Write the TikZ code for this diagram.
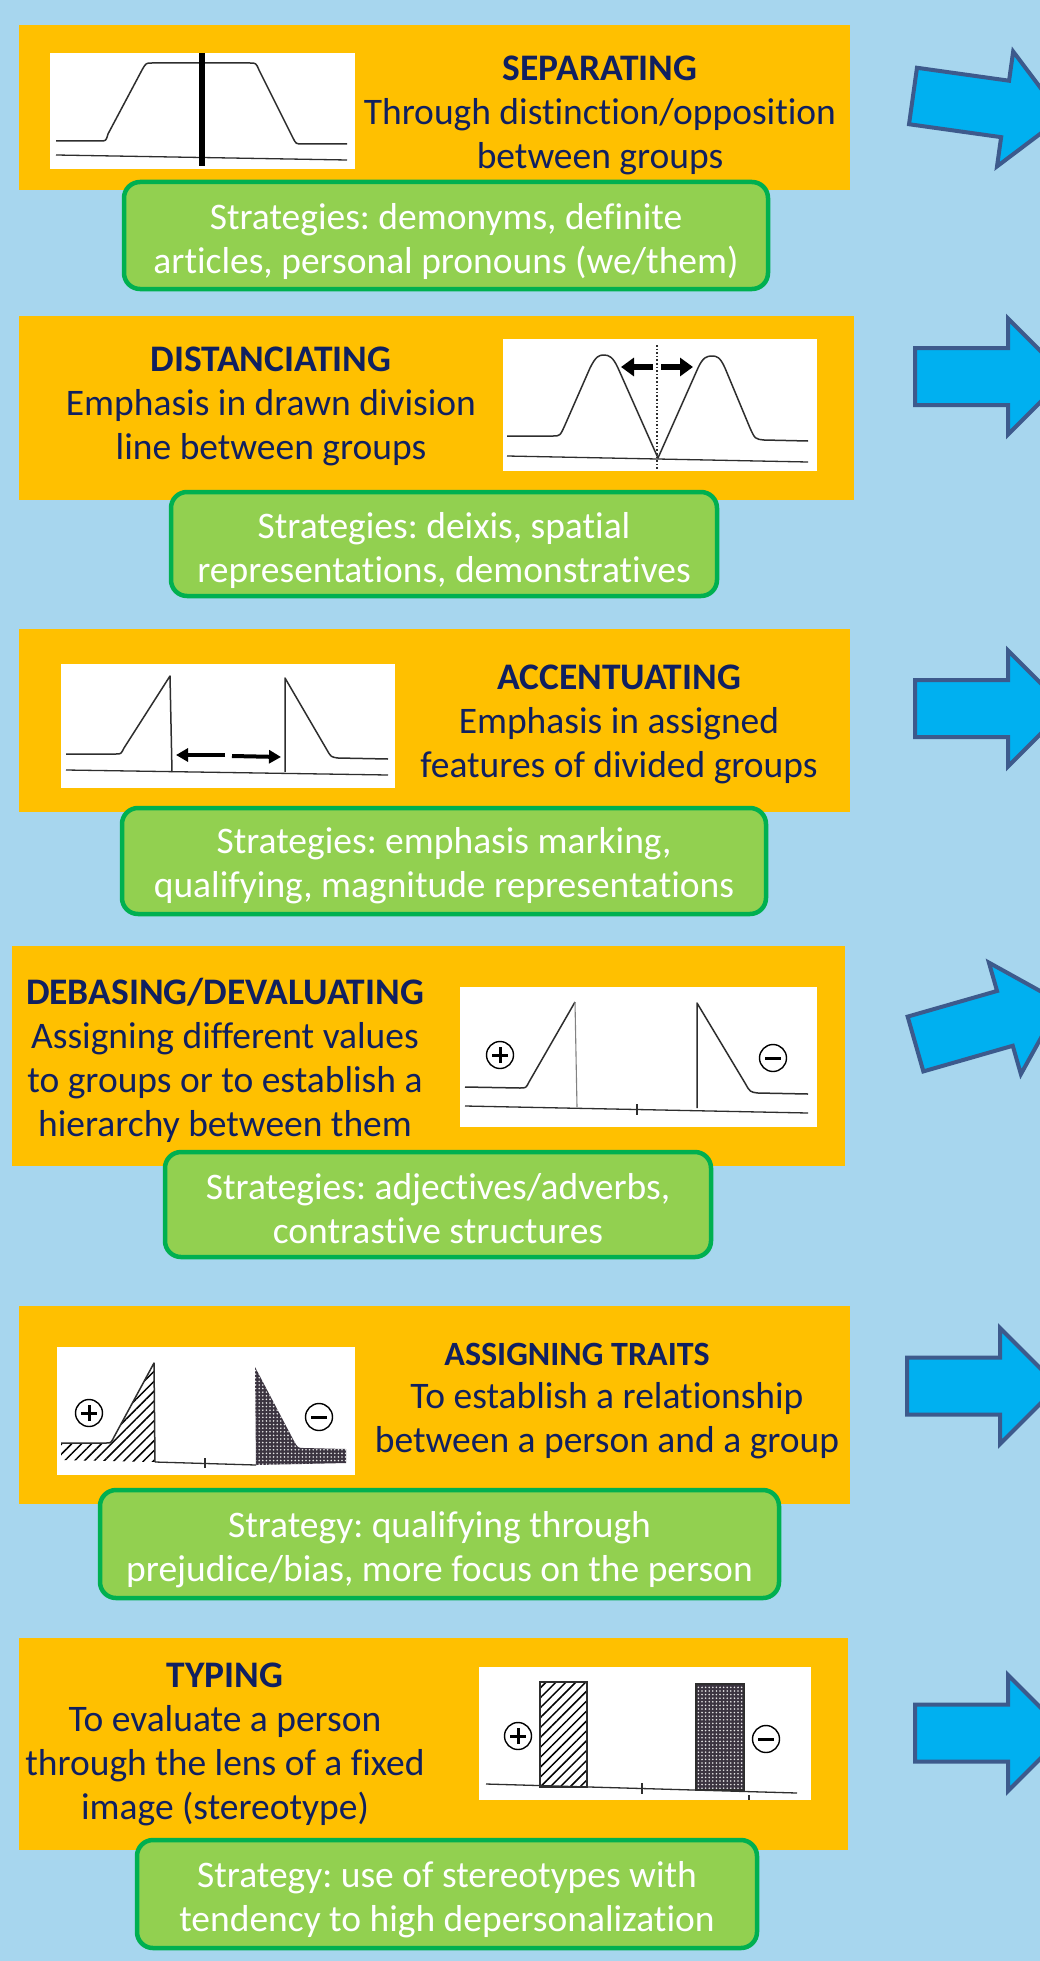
\documentclass[tikz,border=0pt]{standalone}
\usepackage{fontspec}
\setmainfont{Carlito}[Ligatures=NoCommon]
\usetikzlibrary{arrows.meta,patterns.meta}
\frenchspacing

\definecolor{bgblue}{HTML}{A7D6EE}
\definecolor{panelorange}{HTML}{FFC000}
\definecolor{stratgreen}{HTML}{92D050}
\definecolor{stratedge}{HTML}{00B050}
\definecolor{navytext}{HTML}{102060}
\definecolor{arrowfill}{HTML}{00B0F0}
\definecolor{arrowedge}{HTML}{3D5A8C}
\definecolor{plotline}{HTML}{2E2E2E}
\definecolor{dotdark}{HTML}{3B3440}

\begin{document}
\begin{tikzpicture}[x=1pt,y=-1pt,
  panel/.style={fill=panelorange, draw=none, inner sep=0pt},
  plotbox/.style={fill=white, draw=none, inner sep=0pt},
  strat/.style={fill=stratgreen, draw=stratedge, line width=4.5pt,
    rounded corners=16pt, inner sep=0pt},
  strattext/.style={align=center, text=white, inner sep=0pt,
    font=\fontsize{37.5}{44}\selectfont},
  ttl/.style={text=navytext, align=center, inner sep=0pt,
    font=\fontsize{37.5}{44}\selectfont},
  curve/.style={draw=plotline, line width=1.5pt, line join=round},
  axis/.style={draw=plotline, line width=1.3pt},
  gap/.style={draw=black, line width=5.5pt, -{Triangle[length=13pt,width=18pt]}},
  gapsmall/.style={draw=black, line width=4pt, -{Triangle[length=12pt,width=13pt]}},
  hatched/.style={pattern={Lines[angle=45,distance=7pt,line width=1.5pt]}, pattern color=black},
  dotted fill/.style={pattern={Dots[radius=0.9pt,distance=3.6pt]}, pattern color=white!80!gray},
  sign/.style={circle, draw=black, line width=1.4pt, minimum size=27pt, inner sep=0pt},
  plussign/.style={sign, path picture={
    \draw[line width=3pt] ([xshift=-8pt]path picture bounding box.center) -- ([xshift=8pt]path picture bounding box.center)
      ([yshift=-8pt]path picture bounding box.center) -- ([yshift=8pt]path picture bounding box.center);}},
  minussign/.style={sign, path picture={
    \draw[line width=3pt] ([xshift=-8pt]path picture bounding box.center) -- ([xshift=8pt]path picture bounding box.center);}},
  bigarrow/.pic={
    \draw[fill=arrowfill, draw=arrowedge, line width=4pt]
      (0,-28.5) -- (93,-28.5) -- (93,-58) -- (151,0) -- (93,58) -- (93,28.5) -- (0,28.5) -- cycle;}
]
\useasboundingbox (0,0) rectangle (1040,1961);
\clip (0,0) rectangle (1040,1961);
\fill[bgblue] (0,0) rectangle (1040,1961);

% arrows along the right edge
\pic[shift={(913,96)},rotate=-8] {bigarrow};
\pic[shift={(915,376.5)}] {bigarrow};
\pic[shift={(915,708.5)}] {bigarrow};
\pic[shift={(915.5,1044)},rotate=16] {bigarrow};
\pic[shift={(907,1386)}] {bigarrow};
\pic[shift={(915,1733)}] {bigarrow};

% orange panels
\node[panel, minimum width=831pt, minimum height=165pt] (p1) at (434.5,107.5) {};
\node[panel, minimum width=835pt, minimum height=184pt] (p2) at (436.5,408) {};
\node[panel, minimum width=831pt, minimum height=183pt] (p3) at (434.5,720.5) {};
\node[panel, minimum width=833pt, minimum height=220pt] (p4) at (428.5,1056) {};
\node[panel, minimum width=831pt, minimum height=198pt] (p5) at (434.5,1405) {};
\node[panel, minimum width=829pt, minimum height=212pt] (p6) at (433.5,1744) {};

% white plot areas
\node[plotbox, minimum width=305pt, minimum height=116pt] (w1) at (202.5,111) {};
\node[plotbox, minimum width=314pt, minimum height=132pt] (w2) at (660,405) {};
\node[plotbox, minimum width=334pt, minimum height=124pt] (w3) at (228,726) {};
\node[plotbox, minimum width=357pt, minimum height=140pt] (w4) at (638.5,1057) {};
\node[plotbox, minimum width=298pt, minimum height=128pt] (w5) at (206,1411) {};
\node[plotbox, minimum width=332pt, minimum height=133pt] (w6) at (645,1733.5) {};

% plot 1: one group cut by a bar
\draw[curve] (56,141) -- (100,141) .. controls (106,141) .. (108,134) -- (142,70)
  .. controls (146,63) .. (152,63) -- (250,63) .. controls (256,63) .. (259,70)
  -- (293,138) .. controls (296,144) .. (303,144) -- (347,144);
\draw[axis] (56,155) -- (347,160);
\draw[black, line width=6pt] (202,53) -- (202,166);

% plot 2: two peaks pushed apart
\draw[curve] (507,436) -- (553,436) .. controls (560,436) .. (565,425) -- (590,368)
  .. controls (596,356) and (599,355) .. (604,355) .. controls (609,355) and (613,357) .. (618,368)
  -- (658,458) -- (698,368) .. controls (703,357) and (707,356) .. (712,356)
  .. controls (717,356) and (720,357) .. (725,368) -- (750,428)
  .. controls (755,439) .. (764,440) -- (808,441);
\draw[axis] (507,456) -- (808,462);
\draw[plotline, line width=1.6pt, dotted] (657,345) -- (657,470);
\coordinate (c2l) at (653,367);
\coordinate (c2lt) at (621,367);
\coordinate (c2r) at (661,367);
\coordinate (c2rt) at (693,367);
\draw[gap] (c2l) -- (c2lt);
\draw[gap] (c2r) -- (c2rt);

% plot 3: sharpened edges
\draw[curve] (66,754) -- (116,754) .. controls (121,754) .. (124,748) -- (170,676) -- (172,772);
\draw[curve] (285,772) -- (285,678) -- (327,750) .. controls (331,757) .. (338,758) -- (388,759);
\draw[axis] (66,770) -- (388,775);
\coordinate (c3l) at (225,755);
\coordinate (c3lt) at (176,755);
\coordinate (c3r) at (232,756);
\coordinate (c3rt) at (281,757);
\draw[gapsmall] (c3l) -- (c3lt);
\draw[gapsmall] (c3r) -- (c3rt);

% plot 4: plus and minus sides
\draw[curve] (465,1087) -- (520,1088) .. controls (526,1088) .. (529,1082) -- (575,1002);
\draw[draw=plotline!60, line width=1.1pt] (575,1002) -- (577,1107);
\draw[curve] (697,1108) -- (697,1003) -- (745,1083) .. controls (750,1092) .. (758,1093) -- (808,1094);
\draw[axis] (465,1106) -- (808,1113);
\draw[axis] (637,1104) -- (637,1115);
\node[plussign] (s4p) at (500,1055) {};
\node[minussign] (s4m) at (773,1058) {};

% plot 5: hatched and dotted traits
\fill[hatched] (61,1443) -- (106,1443) .. controls (111,1443) .. (114,1437) -- (154,1363) -- (155,1462) -- (61,1460) -- cycle;
\draw[curve] (61,1443) -- (106,1443) .. controls (111,1443) .. (114,1437) -- (154,1363) -- (155,1462);
\fill[dotdark] (255,1367) -- (256,1465) -- (346,1463) -- (346,1449) -- (304,1448) .. controls (298,1448) .. (294,1441) -- cycle;
\fill[dotted fill]
  (255,1367) -- (256,1465) -- (346,1463) -- (346,1449) -- (304,1448) .. controls (298,1448) .. (294,1441) -- cycle;
\draw[axis] (155,1462) -- (256,1465);
\draw[axis] (205,1458) -- (205,1468);
\node[plussign] (s5p) at (89,1413) {};
\node[minussign] (s5m) at (319,1417) {};

% plot 6: fixed blocks
\fill[hatched] (540,1682) rectangle (587,1787);
\draw[plotline, line width=1.3pt] (540,1682) rectangle (587,1787);
\fill[dotdark] (696,1684) rectangle (744,1790);
\fill[dotted fill] (696,1684) rectangle (744,1790);
\draw[plotline, line width=1.3pt] (696,1684) rectangle (744,1790);
\draw[axis] (486,1784) -- (797,1793);
\draw[axis] (642,1783) -- (642,1794);
\draw[axis] (749,1795) -- (749,1800);
\node[plussign] (s6p) at (518,1736) {};
\node[minussign] (s6m) at (766,1739) {};

% panel texts
\node[ttl] (t1) at (600,115) {\textbf{SEPARATING}\\Through distinction/opposition\\between groups};
\node[ttl] (t2) at (271,406) {\textbf{DISTANCIATING}\\Emphasis in drawn division\\line between groups};
\node[ttl] (t3) at (619,724) {\textbf{ACCENTUATING}\\Emphasis in assigned\\features of divided groups};
\node[ttl] (t4) at (225,1060) {\textbf{DEBASING/DEVALUATING}\\Assigning different values\\to groups or to establish a\\hierarchy between them};
\node[ttl, font=\fontsize{34}{44}\selectfont] (t5a) at (577,1354) {\textbf{ASSIGNING TRAITS}};
\node[ttl] (t5b) at (607,1421) {To establish a relationship\\between a person and a group};
\node[ttl] (t6) at (225,1744) {\textbf{TYPING}\\To evaluate a person\\through the lens of a fixed\\image (stereotype)};

% strategy boxes
\node[strat, minimum width=644pt, minimum height=107pt] (g1) at (446,235.5) {};
\node[strat, minimum width=546pt, minimum height=104pt] (g2) at (444,544) {};
\node[strat, minimum width=644pt, minimum height=106pt] (g3) at (444,861) {};
\node[strat, minimum width=546pt, minimum height=105pt] (g4) at (438,1204.5) {};
\node[strat, minimum width=679pt, minimum height=108pt] (g5) at (439.5,1544) {};
\node[strat, minimum width=620pt, minimum height=108pt] (g6) at (447,1894) {};

\node[strattext] (g1t) at ([yshift=-6pt]g1.center) {Strategies: demonyms, definite\\articles, personal pronouns (we/them)};
\node[strattext] (g2t) at ([yshift=-6pt]g2.center) {Strategies: deixis, spatial\\representations, demonstratives};
\node[strattext] (g3t) at ([yshift=-5pt]g3.center) {Strategies: emphasis marking,\\qualifying, magnitude representations};
\node[strattext] (g4t) at ([yshift=-4pt]g4.center) {Strategies: adjectives/adverbs,\\contrastive structures};
\node[strattext] (g5t) at ([yshift=-6pt]g5.center) {Strategy: qualifying through\\prejudice/bias, more focus on the person};
\node[strattext] (g6t) at ([yshift=-6pt]g6.center) {Strategy: use of stereotypes with\\tendency to high depersonalization};
\end{tikzpicture}
\end{document}
